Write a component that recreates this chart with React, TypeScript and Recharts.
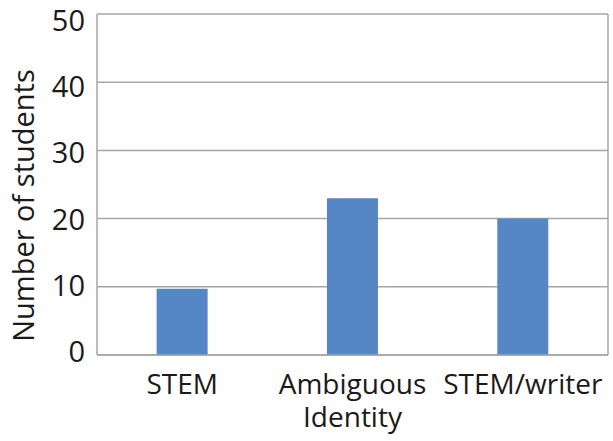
import { BarChart, Bar, XAxis, YAxis, CartesianGrid, Label } from "recharts";

const categories = ["STEM", "Ambiguous Identity", "STEM/writer"];
const students = [9.7, 23, 20];
const yTicks = [0, 10, 20, 30, 40, 50];

const data = categories.map((name, i) => ({ name, students: students[i] }));

const FONT = "'Open Sans', sans-serif";
const INK = "#1a1a1a";
const GRID = "#a6a6a6";

function CatTick({ x, y, payload }: any) {
  const lines = String(payload.value).split(" ");
  return (
    <text x={x} y={y + 31} textAnchor="middle" fontFamily={FONT} fontSize={28} fill={INK}>
      {lines.map((l, i) => (
        <tspan key={i} x={x} dy={i === 0 ? 0 : 33}>
          {l}
        </tspan>
      ))}
    </text>
  );
}

// labels in the source sit a touch closer together than the gridlines
function NumTick({ x, y, payload }: any) {
  const ty = 185 + (y - 184.5) * 0.968;
  return (
    <text
      x={x - 4}
      y={ty}
      textAnchor="end"
      dominantBaseline="central"
      fontFamily={FONT}
      fontSize={29}
      fill={INK}
    >
      {payload.value}
    </text>
  );
}

function YLabel({ viewBox }: any) {
  const cx = viewBox.x + 22;
  const cy = viewBox.y + viewBox.height / 2 + 21;
  return (
    <text
      x={cx}
      y={cy}
      transform={`rotate(-90, ${cx}, ${cy})`}
      textAnchor="middle"
      dominantBaseline="central"
      fontFamily={FONT}
      fontSize={29}
      fill={INK}
    >
      Number of students
    </text>
  );
}

export default function App() {
  return (
    <div style={{ position: "absolute", left: 0, top: 0, background: "#fff" }}>
      <BarChart
        width={613}
        height={441}
        data={data}
        margin={{ top: 14, right: 0, bottom: 0, left: 0 }}
        barCategoryGap="35%"
      >
        <CartesianGrid vertical={false} stroke={GRID} strokeWidth={1.5} yAxisId="l" />
        <XAxis
          dataKey="name"
          tick={<CatTick />}
          tickLine={false}
          axisLine={{ stroke: GRID, strokeWidth: 1.5 }}
          height={86}
          interval={0}
        />
        <YAxis
          yAxisId="l"
          domain={[0, 50]}
          ticks={yTicks}
          width={97}
          tickLine={false}
          axisLine={{ stroke: GRID, strokeWidth: 1.5 }}
          tick={<NumTick />}
        >
          <Label content={<YLabel />} />
        </YAxis>
        <YAxis
          yAxisId="r"
          orientation="right"
          domain={[0, 50]}
          width={5}
          tick={false}
          tickLine={false}
          axisLine={{ stroke: GRID, strokeWidth: 1.5 }}
        />
        <Bar yAxisId="l" dataKey="students" fill="#5586c6" isAnimationActive={false} />
      </BarChart>
    </div>
  );
}
